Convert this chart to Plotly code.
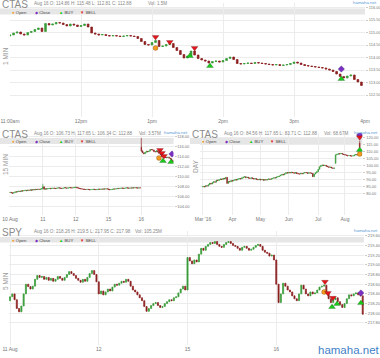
import plotly.graph_objects as go

W, H = 380, 358

# ---------------- CTAS 1 MIN (one bar every 3 minutes, minutes after 11:00) ----------------
m1_x = list(range(0, 300, 3))
m1_first_open = 114.86
m1_close = [
    114.90, 114.98, 115.02, 114.94, 114.90, 115.00, 115.04, 115.12, 115.18, 115.04,
    115.36, 115.30, 115.34, 115.40, 115.38, 115.32, 115.26, 115.34, 115.30, 115.24,
    115.28, 115.34, 115.22, 114.98, 114.94, 114.90, 114.92, 114.88, 114.86, 114.88,
    114.86, 114.84, 114.86, 114.88, 114.86, 114.84, 114.76, 114.64, 114.52, 114.50,
    114.60, 114.68, 114.44, 114.46, 114.52, 114.56, 114.40, 114.28, 114.12, 113.98,
    114.06, 114.26, 114.10, 113.96, 113.90, 113.86, 113.78, 113.84, 113.86, 113.82,
    113.88, 113.96, 114.02, 113.92, 113.76, 113.74, 113.76, 113.78, 113.76, 113.80,
    113.78, 113.76, 113.74, 113.72, 113.70, 113.72, 113.68, 113.70, 113.72, 113.76,
    113.82, 113.78, 113.72, 113.68, 113.66, 113.64, 113.62, 113.60, 113.58, 113.54,
    113.50, 113.44, 113.34, 113.24, 113.18, 113.26, 113.30, 113.12, 113.02, 112.88,
]
m1_xticks = [0, 60, 120, 180, 240, 300]
m1_xticktext = ["11:00am", "12pm", "1pm", "2pm", "3pm", "4pm"]
m1_yticks = [112.5, 113.0, 113.5, 114.0, 114.5, 115.0, 115.5, 116.0]
m1_buy_x, m1_buy_y = [152, 169, 280], [114.06, 113.66, 113.14]
m1_sell_x, m1_sell_y = [123, 135, 156], [114.82, 114.62, 114.38]
m1_open_x, m1_open_y = [123], [114.38]
m1_close_x, m1_close_y = [280], [113.54]

# ---------------- CTAS 15 MIN (26 bars per day: Aug 10, 11, 12, 15, 16) ----------------
m15_first_open = 106.73
m15_close = [
    106.80, 106.70, 106.62, 106.75, 106.90, 106.85, 106.95, 107.05, 106.98, 107.10, 107.05, 107.15, 107.20,
    107.12, 107.25, 107.20, 107.30, 107.22, 107.35, 107.28, 107.40, 107.35, 107.42, 107.38, 107.45, 107.50,
    107.90, 107.40, 107.50, 107.45, 107.55, 107.60, 107.52, 107.58, 107.65, 107.60, 107.55, 107.62, 107.70,
    107.65, 107.60, 107.58, 107.66, 107.72, 107.68, 107.62, 107.70, 107.75, 107.70, 107.66, 107.72, 107.78,
    107.85, 107.70, 107.62, 107.55, 107.50, 107.45, 107.40, 107.38, 107.35, 107.40, 107.36, 107.30, 107.34,
    107.38, 107.42, 107.36, 107.32, 107.38, 107.44, 107.40, 107.46, 107.42, 107.48, 107.44, 107.50, 107.46,
    107.40, 107.30, 107.36, 107.42, 107.48, 107.44, 107.52, 107.58, 107.54, 107.60, 107.66, 107.62, 107.58,
    107.64, 107.70, 107.66, 107.62, 107.68, 107.64, 107.70, 107.66, 107.72, 107.68, 107.64, 107.70, 107.66,
    115.10, 114.70, 114.50, 114.80, 115.00, 114.90, 115.04, 115.36, 115.32, 115.28, 114.94, 114.88, 115.10,
    114.86, 114.60, 114.40, 113.98, 113.86, 113.82, 113.76, 113.72, 113.80, 113.64, 113.50, 113.18, 112.88,
]
m15_gap_opens = {104: 115.80}
m15_extremes = {26: (108.50, 107.40), 104: (117.65, 114.90)}
m15_xticks = [0, 26, 52, 78, 104]
m15_xticktext = ["10 Aug", "11", "12", "15", "16"]
m15_yticks = [104, 106, 108, 110, 112, 114, 116, 118]
m15_buy_x, m15_buy_y = [121.2, 127.6], [113.06, 112.86]
m15_sell_x, m15_sell_y = [118.8, 120.4, 122.0], [115.26, 114.66, 114.06]
m15_open_x, m15_open_y = [118.0], [113.66]
m15_close_x, m15_close_y = [128.3], [114.46]

# ---------------- CTAS DAY (trading days from 1 Mar 2016) ----------------
d_first_open = 84.56
d_close = [
    84.90, 84.60, 85.40, 85.20, 86.10, 87.20, 86.70, 87.60, 88.30, 88.00,
    89.50, 89.20, 89.80, 90.30, 89.90, 90.70, 90.40, 91.40, 87.20, 88.60,
    88.30, 89.10, 88.80, 89.40, 89.90, 89.50, 90.20, 90.60, 90.30, 91.00,
    91.60, 91.90, 91.20, 91.50, 90.90, 90.70, 91.10, 90.60, 90.20, 90.50,
    90.00, 89.70, 90.10, 89.60, 89.90, 89.40, 89.80, 89.50, 89.90, 90.30,
    90.00, 90.50, 90.70, 91.20, 91.00, 91.70, 92.10, 92.40, 93.00, 93.60,
    93.30, 94.10, 94.80, 94.50, 95.00, 94.60, 95.10, 94.80, 94.40, 94.90,
    94.20, 93.90, 93.80, 94.30, 94.00, 94.50, 94.90, 94.80, 94.30, 94.70,
    94.50, 94.30, 91.90, 93.80, 94.70, 95.50, 97.20, 99.10, 99.80, 100.30,
    99.90, 100.10, 99.40, 99.10, 98.60, 98.80, 98.20, 97.90, 98.10, 107.50,
    108.00, 108.40, 108.20, 108.60, 108.10, 107.80, 107.50, 107.20, 106.90, 107.10,
    106.80, 106.70, 106.90, 107.50, 107.78, 107.46, 107.66, 112.88,
]
d_gap_opens = {99: 101.50, 117: 115.80}
d_extremes = {18: (91.60, 86.80), 99: (107.90, 101.20), 117: (117.65, 112.81)}
d_xticks = [0, 22, 43, 64, 86, 106]
d_xticktext = ["Mar '16", "Apr", "May", "Jun", "Jul", "Aug"]
d_yticks = [80, 85, 90, 95, 100, 105, 110, 115, 120]
d_buy_x, d_buy_y = [117], [111.0]
d_sell_x, d_sell_y = [117], [120.1]
d_open_x, d_open_y = [117], [108.2]
d_close_x, d_close_y = [117], [121.8]

# ---------------- SPY 5 MIN (39 bars per day: Aug 11, 12, 15, 16) ----------------
s_first_open = 218.26
s_close = [
    218.34, 218.40, 218.28, 218.10, 218.03, 218.15, 218.40, 218.60, 218.55, 218.50, 218.56, 218.70, 218.78,
    218.74, 218.76, 218.70, 218.74, 218.68, 218.72, 218.66, 218.70, 218.76, 218.72, 218.68, 218.74, 218.80,
    218.86, 218.82, 218.78, 218.72, 218.68, 218.64, 218.70, 218.66, 218.74, 218.82, 218.88, 218.80, 218.65,
    218.40, 218.46, 218.38, 218.44, 218.50, 218.46, 218.54, 218.60, 218.58, 218.62, 218.66, 218.64, 218.70,
    218.66, 218.56, 218.48, 218.44, 218.38, 218.32, 218.26, 218.14, 218.04, 218.10, 218.16, 218.20, 218.22,
    218.16, 218.12, 218.14, 218.20, 218.24, 218.28, 218.26, 218.32, 218.34, 218.42, 218.50, 218.56, 218.48,
    219.15, 219.08, 219.02, 219.10, 219.06, 219.22, 219.34, 219.30, 219.38, 219.42, 219.46, 219.44, 219.48,
    219.42, 219.38, 219.36, 219.42, 219.46, 219.48, 219.44, 219.40, 219.38, 219.34, 219.30, 219.36, 219.38,
    219.34, 219.30, 219.32, 219.36, 219.40, 219.42, 219.38, 219.30, 219.26, 219.24, 219.18, 219.20, 219.10,
    218.60, 218.22, 218.40, 218.62, 218.56, 218.48, 218.44, 218.36, 218.30, 218.26, 218.40, 218.58, 218.50,
    218.40, 218.36, 218.44, 218.40, 218.42, 218.48, 218.54, 218.56, 218.58, 218.40, 218.30, 218.22, 218.28,
    218.32, 218.24, 218.18, 218.12, 218.20, 218.30, 218.38, 218.36, 218.40, 218.42, 218.38, 218.36, 217.98,
]
s_xticks = [0, 39, 78, 117]
s_xticktext = ["11 Aug", "12", "15", "16"]
s_yticks = [217.8, 218.0, 218.2, 218.4, 218.6, 218.8, 219.0, 219.2, 219.4, 219.6]
s_buy_x, s_buy_y = [141.5, 143.7, 154.2], [218.13, 218.19, 218.21]
s_sell_x, s_sell_y = [138.4, 139.7, 141.9], [218.65, 218.42, 218.32]
s_open_x, s_open_y = [138.0], [218.44]
s_close_x, s_close_y = [154.2], [218.42]

# ---------------- texts ----------------
titles = ["CTAS", "CTAS", "CTAS", "SPY"]
periods = ["1 MIN", "15 MIN", "DAY", "5 MIN"]
infos = [
    "Aug 16 O: 114.86 H: 115.48 L: 112.81 C: 112.88",
    "Aug 16 O: 106.73 H: 117.65 L: 106.34 C: 112.88",
    "Aug 16 O: 84.56 H: 117.65 L: 83.71 C: 112.88",
    "Aug 16 O: 218.26 H: 219.5 L: 217.95 C: 217.98",
]
vols = ["Vol: 1.5M", "Vol: 3.57M", "Vol: 68.67M", "Vol: 105.25M"]
legend_names = ["Open", "Close", "BUY", "SELL"]


def build_ohlc(closes, first_open, gap_opens, extremes):
    opens = [first_open] + closes[:-1]
    for i, o in gap_opens.items():
        opens[i] = o
    highs = [max(o, c) for o, c in zip(opens, closes)]
    lows = [min(o, c) for o, c in zip(opens, closes)]
    for i, (h, l) in extremes.items():
        highs[i] = h
        lows[i] = l
    return opens, highs, lows


INC = "#3a9c3a"
DEC = "#8c1f1f"
C_BUY, C_SELL, C_OPEN, C_CLOSE = "#19c819", "#e3161b", "#f29a1f", "#7b30c4"

fig = go.Figure()


def add_panel(n, x, closes, first_open, gaps, extremes, sig, lw):
    xa, ya = ("x", "y") if n == 1 else (f"x{n}", f"y{n}")
    o, h, l = build_ohlc(closes, first_open, gaps, extremes)
    fig.add_trace(go.Candlestick(
        x=x, open=o, high=h, low=l, close=closes, xaxis=xa, yaxis=ya,
        increasing=dict(line=dict(color=INC, width=lw), fillcolor=INC),
        decreasing=dict(line=dict(color=DEC, width=lw), fillcolor=DEC),
        whiskerwidth=0, hoverinfo="skip", showlegend=False))
    specs = [
        (sig["open"], "circle", C_OPEN, 5),
        (sig["close"], "diamond", C_CLOSE, 5),
        (sig["buy"], "triangle-up", C_BUY, 6),
        (sig["sell"], "triangle-down", C_SELL, 6),
    ]
    for (sx, sy), sym, col, size in specs:
        fig.add_trace(go.Scatter(
            x=sx, y=sy, mode="markers", xaxis=xa, yaxis=ya, hoverinfo="skip", showlegend=False,
            marker=dict(symbol=sym, color=col, size=size, line=dict(width=0.4, color="rgba(0,0,0,0.45)"))))


add_panel(1, m1_x, m1_close, m1_first_open, {}, {},
          dict(open=(m1_open_x, m1_open_y), close=(m1_close_x, m1_close_y),
               buy=(m1_buy_x, m1_buy_y), sell=(m1_sell_x, m1_sell_y)), 0.7)
add_panel(2, list(range(len(m15_close))), m15_close, m15_first_open, m15_gap_opens, m15_extremes,
          dict(open=(m15_open_x, m15_open_y), close=(m15_close_x, m15_close_y),
               buy=(m15_buy_x, m15_buy_y), sell=(m15_sell_x, m15_sell_y)), 0.7)
add_panel(3, list(range(len(d_close))), d_close, d_first_open, d_gap_opens, d_extremes,
          dict(open=(d_open_x, d_open_y), close=(d_close_x, d_close_y),
               buy=(d_buy_x, d_buy_y), sell=(d_sell_x, d_sell_y)), 0.7)
add_panel(4, list(range(len(s_close))), s_close, s_first_open, {}, {},
          dict(open=(s_open_x, s_open_y), close=(s_close_x, s_close_y),
               buy=(s_buy_x, s_buy_y), sell=(s_sell_x, s_sell_y)), 0.7)

GRID = "#ececec"


def xaxis(px0, px1, rng, tv, tt, anchor):
    return dict(domain=[px0 / W, px1 / W], range=rng, tickvals=tv, ticktext=tt, anchor=anchor,
                showgrid=True, gridcolor=GRID, gridwidth=1, zeroline=False, showline=False,
                ticks="", tickfont=dict(size=5, color="#777"), rangeslider=dict(visible=False),
                automargin=False, fixedrange=True)


def yaxis(py0, py1, rng, tv, anchor):
    return dict(domain=[1 - py1 / H, 1 - py0 / H], range=rng, tickvals=tv,
                ticktext=[f"{v:.2f}" for v in tv], anchor=anchor, side="right",
                showgrid=True, gridcolor=GRID, gridwidth=1, zeroline=False, showline=False,
                ticks="outside", ticklen=2, tickcolor="#cccccc",
                tickfont=dict(size=4, color="#777"), automargin=False, fixedrange=True)


layout = dict(
    width=W, height=H, margin=dict(l=0, r=0, t=0, b=0), template="none",
    paper_bgcolor="white", plot_bgcolor="rgba(0,0,0,0)", showlegend=False,
    font=dict(family="Liberation Sans, Arial, sans-serif", color="#777"),
    xaxis=xaxis(10, 365, [0, 300], m1_xticks, m1_xticktext, "y"),
    yaxis=yaxis(3, 117, [111.62, 116.18], m1_yticks, "x"),
    xaxis2=xaxis(9.4, 173.5, [-0.5, 129.5], m15_xticks, m15_xticktext, "y2"),
    yaxis2=yaxis(133, 215, [102.26, 118.66], m15_yticks, "x2"),
    xaxis3=xaxis(200.3, 362.4, [-2, 119], d_xticks, d_xticktext, "y3"),
    yaxis3=yaxis(133, 215, [64.44, 123.23], d_yticks, "x3"),
    xaxis4=xaxis(8.86, 363.9, [-0.5, 155.5], s_xticks, s_xticktext, "y4"),
    yaxis4=yaxis(231, 345, [217.346, 219.697], s_yticks, "x4"),
)
fig.update_layout(**layout)


def ann(px, py, text, size, color, xanchor="left", angle=0):
    return dict(x=px / W, y=1 - py / H, xref="paper", yref="paper", text=text, showarrow=False,
                font=dict(size=size, color=color), xanchor=xanchor, yanchor="middle",
                textangle=angle, borderpad=0)


anns, shapes = [], []
# header placement per panel: (left px, title y, info y, band top, band bottom, band right, vol x, net x)
hdr = [
    (0, 4.2, 3.8, 8.5, 14.5, 365, 147, 378),
    (0, 134.0, 133.6, 138, 144, 173.5, 138, 189),
    (190, 134.0, 133.6, 138, 144, 362.4, 323, 379),
    (0, 232.0, 231.3, 237, 242.5, 363.9, 134, 379),
]
legend_marks = [("●", C_OPEN, 11), ("◆", C_CLOSE, 34), ("▲", C_BUY, 58), ("▼", C_SELL, 79)]
period_pos = [(5, 56), (5, 165), (195, 166), (5, 281)]
for k, (lx, ty, iy, b0, b1, br, vx, nx) in enumerate(hdr):
    shapes.append(dict(type="rect", xref="paper", yref="paper", x0=lx / W, x1=br / W,
                       y0=1 - b1 / H, y1=1 - b0 / H, fillcolor="#e6e6e6", line=dict(width=0),
                       layer="below"))
    anns.append(ann(lx + 1, ty, titles[k], 10, "#8c8c8c"))
    anns.append(ann(lx + 33, iy, infos[k], 4.6, "#888"))
    anns.append(ann(vx, iy, vols[k], 4.6, "#888"))
    anns.append(ann(nx, iy - 1, "hamaha.net", 4.4, "#5b9bd5", xanchor="right"))
    ly = (b0 + b1) / 2 + 0.8
    for (sym, col, mx), lab in zip(legend_marks, legend_names):
        anns.append(ann(lx + mx, ly, f"<span style='color:{col}'>{sym}</span> {lab}", 4.3, "#444"))
    px_, py_ = period_pos[k]
    anns.append(ann(px_, py_, periods[k], 6.5, "#9a9a9a", xanchor="center", angle=-90))

anns.append(ann(349, 350, "hamaha.net", 11.5, "#3f7fc8", xanchor="center"))

fig.update_layout(annotations=anns, shapes=shapes)
fig.write_html(
    "out.html",
    config={"displayModeBar": False, "staticPlot": True},
    post_script="document.body.style.margin='0';document.body.style.padding='0';"
                "document.documentElement.style.overflow='hidden';",
)
